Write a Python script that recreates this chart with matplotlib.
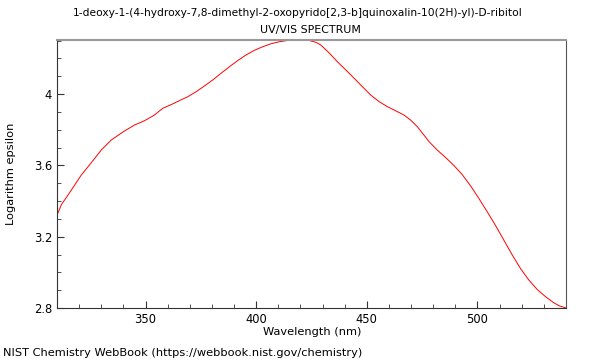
import matplotlib
matplotlib.use("Agg")
import matplotlib.pyplot as plt
from matplotlib.ticker import MultipleLocator

wavelength = [310, 312, 315, 318, 321, 325.5, 330, 334.5, 340, 345, 349.5, 354, 357.8,
              362, 365.3, 369.1, 372.9, 376.6, 380.4, 384.1, 387.9, 391.6, 395.4,
              399.2, 402.9, 406.7, 410.4, 414, 418, 421, 424, 427, 429.2, 433,
              436.7, 440.5, 444.3, 448.0, 451.8, 455.6, 459.3, 463.2, 466.8, 469.8,
              472.8, 475.8, 478.1, 481.8, 485.6, 489.3, 493.1, 496.9, 500.6, 504.4,
              508.2, 511.9, 515.6, 519.4, 523.2, 526.9, 530.7, 534.4, 537, 540]
log_eps = [3.32, 3.38, 3.434, 3.49, 3.546, 3.615, 3.686, 3.742, 3.789, 3.826, 3.85,
           3.882, 3.92, 3.943, 3.963, 3.985, 4.013, 4.045, 4.079, 4.116, 4.153, 4.187,
           4.219, 4.245, 4.265, 4.282, 4.293, 4.300, 4.303, 4.303, 4.30, 4.29, 4.275,
           4.23, 4.181, 4.135, 4.088, 4.041, 3.994, 3.957, 3.929, 3.905, 3.882, 3.854,
           3.817, 3.770, 3.733, 3.686, 3.644, 3.600, 3.548, 3.485, 3.415, 3.340,
           3.262, 3.181, 3.100, 3.022, 2.957, 2.905, 2.864, 2.83, 2.812, 2.80]

title1 = "1-deoxy-1-(4-hydroxy-7,8-dimethyl-2-oxopyrido[2,3-b]quinoxalin-10(2H)-yl)-D-ribitol"
title2 = "UV/VIS SPECTRUM"
xlabel = "Wavelength (nm)"
ylabel = "Logarithm epsilon"
footer = "NIST Chemistry WebBook (https://webbook.nist.gov/chemistry)"

plt.rcParams['font.family'] = ['DejaVu Sans']
fig = plt.figure(figsize=(6, 3.6), dpi=100)
ax = fig.add_axes([57/600, 1-308/360, (566-57)/600, (308-40)/360])
ax.plot(wavelength, log_eps, color='#ff0000', lw=0.7)
ax.set_xlim(310, 540)
ax.set_ylim(2.8, 4.303)
ax.xaxis.set_major_locator(MultipleLocator(50))
ax.xaxis.set_minor_locator(MultipleLocator(10))
ax.yaxis.set_minor_locator(MultipleLocator(0.1))
ax.set_yticks([2.8, 3.2, 3.6, 4.0])
ax.set_yticklabels(['2.8', '3.2', '3.6', '4'])
ax.tick_params(which='both', direction='in', top=False, right=False, labelsize=8.3, color='#333333')
ax.tick_params(which='major', length=5, width=0.8)
ax.tick_params(which='minor', length=3, width=0.6)
ax.spines['top'].set_color('#999999')
ax.spines['top'].set_linewidth(1.5)
ax.spines['right'].set_color('#555555')
ax.spines['left'].set_color('#333333')
ax.spines['bottom'].set_color('#333333')

fig.text(297.5/600, 1-13/360, title1, ha='center', va='center', fontsize=7.7)
fig.text(310/600, 1-30/360, title2, ha='center', va='center', fontsize=7.9)
fig.text(312/600, 1-332/360, xlabel, ha='center', va='center', fontsize=8.2)
fig.text(11/600, 1-174/360, ylabel, ha='center', va='center', rotation=90, fontsize=8.2)
fig.text(3/600, 1-353/360, footer, ha='left', va='center', fontsize=8.2)

fig.savefig('out.png', dpi=100)
